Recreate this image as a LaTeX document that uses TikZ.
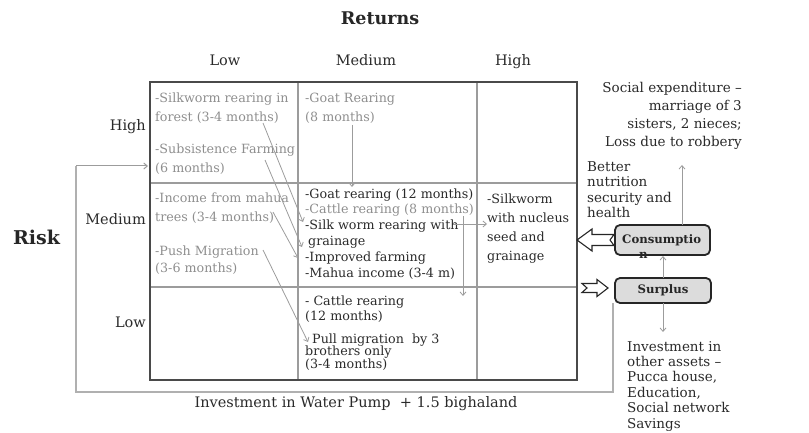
\documentclass[tikz,border=0pt]{standalone}
\usepackage{fontspec}
\setmainfont{DejaVu Serif}
\usetikzlibrary{arrows.meta}
\definecolor{pale}{HTML}{8E8E8E}
\definecolor{ink}{HTML}{2A2A2A}
\definecolor{rulec}{HTML}{9C9C9C}
\definecolor{framec}{HTML}{4A4A4A}
\definecolor{boxfill}{HTML}{DCDCDC}
\newcommand\cellfont[2]{\fontsize{#1}{#2}\selectfont}
\begin{document}
\begin{tikzpicture}[x=1pt,y=-1pt,
  txt/.style={anchor=base west,inner sep=0,align=left},
  palet/.style={txt,text=pale},
  inkt/.style={txt,text=ink},
  hdr/.style={anchor=base,inner sep=0,text=ink,font=\cellfont{14.5}{17}},
  rowhdr/.style={anchor=base east,inner sep=0,text=ink,font=\cellfont{14.5}{17}},
  side/.style={inner sep=0,text=ink,font=\cellfont{13.5}{18}},
  conn/.style={draw=rulec,line width=0.8pt,-{Straight Barb[length=3.5pt,width=6pt]}},
  loopline/.style={draw=rulec!80,line width=1.2pt},
  rbox/.style={draw=black!85,line width=1.8pt,fill=boxfill,rounded corners=5pt,inner sep=0},
  boxtext/.style={inner sep=0,text=black!85,font=\bfseries\cellfont{11.7}{15}},
  blockarrow/.style={draw=black!85,line width=1.1pt,fill=white,line join=miter}
]
\useasboundingbox (0,0) rectangle (809,433);

% titles
\node[anchor=base,inner sep=0,text=black!85,font=\bfseries\cellfont{17.5}{20}] (returns) at (380,25) {Returns};
\node[anchor=base west,inner sep=0,text=black!85,font=\bfseries\cellfont{19}{22}] (risk) at (13,244) {Risk};

% column headers
\node[hdr] (clow) at (225,66) {Low};
\node[hdr] (cmed) at (366,66) {Medium};
\node[hdr] (chigh) at (513,66) {High};
% row headers
\node[rowhdr] (rhigh) at (146,131) {High};
\node[rowhdr] (rmed) at (146,224) {Medium};
\node[rowhdr] (rlow) at (146,327) {Low};

% table
\draw[draw=rulec,line width=1.1pt] (298,82) -- (298,380) (477,82) -- (477,380)
  (150,183) -- (577,183) (150,287) -- (577,287);
\draw[draw=framec,line width=2.2pt] (150,82) rectangle (577,380);

% cell texts (anchor = baseline of the last line)
\node[palet,font=\cellfont{12.7}{19}] (silkf) at (155,122) {-Silkworm rearing in\\forest (3-4 months)};
\node[palet,font=\cellfont{12.7}{19}] (subs) at (155,172) {-Subsistence Farming\\(6 months)};
\node[palet,font=\cellfont{12.7}{19}] (goat8) at (305,122) {-Goat Rearing\\(8 months)};
\node[palet,font=\cellfont{12.7}{20}] (mahua) at (155,222) {-Income from mahua\\trees (3-4 months)};
\node[palet,font=\cellfont{12.7}{17}] (push) at (155,272) {-Push Migration\\(3-6 months)};
\node[inkt,font=\cellfont{12.7}{15.9}] (midmid) at (305,277.5) {-Goat rearing (12 months)\\{\color{pale}-Cattle rearing (8 months)}\\-Silk worm rearing with\\\hspace*{3pt}grainage\\-Improved farming\\-Mahua income (3-4 m)};
\node[inkt,font=\cellfont{12.7}{19}] (nucleus) at (487,260) {-Silkworm\\with nucleus\\seed and\\grainage};
\node[inkt,font=\cellfont{12.7}{15}] (cattle12) at (305,320) {- Cattle rearing\\(12 months)};
\node[inkt,font=\cellfont{12.7}{12.8}] (pull) at (305,368.6) {\hspace*{7pt}Pull migration\ \ by 3\\brothers only\\(3-4 months)};

% side texts
\node[side,anchor=base east,align=right,font=\cellfont{13.5}{18.3}] (social) at (742,147) {Social expenditure –\\marriage of 3\\sisters, 2 nieces;\\Loss due to robbery};
\node[side,anchor=base west,align=left,font=\cellfont{13.5}{15.5}] (better) at (587,217.5) {Better\\nutrition\\security and\\health};
\node[side,anchor=base west,align=left,font=\cellfont{13.5}{15.4}] (invest) at (627,428) {Investment in\\other assets –\\Pucca house,\\Education,\\Social network\\Savings};
\node[side,anchor=base,font=\cellfont{14.5}{17}] (water) at (356,407) {Investment in Water Pump\ \ + 1.5 bighaland};

% boxes
\node[rbox,minimum width=95pt,minimum height=30pt] (cons) at (662.5,240) {};
\node[rbox,minimum width=96pt,minimum height=25pt] (surp) at (663,290.5) {};
\node[boxtext,anchor=base west,align=left] (constext) at (622,258) {Consumptio\\\hspace*{17pt}n};
\node[boxtext,anchor=base] (surptext) at (663,293) {Surplus};

% block arrows
\draw[blockarrow] (577,240) -- (592,229) -- (592,234.5) -- (614,234.5) -- (610,240)
  -- (614,245.5) -- (592,245.5) -- (592,251) -- cycle;
\draw[blockarrow] (608,288) -- (597,279.5) -- (597,283.5) -- (582,283.5) -- (587,288)
  -- (582,292.5) -- (597,292.5) -- (597,296.5) -- cycle;

% arrow end points
\coordinate (a1s) at (263,123); \coordinate (a1e) at (303,222);
\coordinate (a2s) at (265,160); \coordinate (a2e) at (302,247);
\coordinate (a3s) at (273,212); \coordinate (a3e) at (298,258);
\coordinate (a4s) at (263,250); \coordinate (a4e) at (308,342);
\coordinate (a5s) at (352,125); \coordinate (a5e) at (352,187);
\coordinate (a6s) at (453,224); \coordinate (a6e) at (487,224);
\coordinate (a7s) at (463,216); \coordinate (a7e) at (463,296);
\coordinate (a8s) at (682,225); \coordinate (a8e) at (682,165);
\coordinate (a9s) at (663,278); \coordinate (a9e) at (663,256);
\coordinate (a10s) at (663,303); \coordinate (a10e) at (663,332);

\draw[conn] (a1s) -- (a1e);
\draw[conn] (a2s) -- (a2e);
\draw[conn] (a3s) -- (a3e);
\draw[conn] (a4s) -- (a4e);
\draw[conn] (a5s) -- (a5e);
\draw[conn] (a6s) -- (a6e);
\draw[conn] (a7s) -- (a7e);
\draw[conn] (a8s) -- (a8e);
\draw[conn] (a9s) -- (a9e);
\draw[conn] (a10s) -- (a10e);

% feedback loop
\coordinate (l1) at (613,303);
\coordinate (l2) at (613,392);
\coordinate (l3) at (76,392);
\coordinate (l4) at (76,166);
\coordinate (l5) at (148,166);
\draw[loopline] (l1) -- (l2) -- (l3) -- (l4);
\draw[conn,line width=1pt] (l4) -- (l5);
\end{tikzpicture}
\end{document}
